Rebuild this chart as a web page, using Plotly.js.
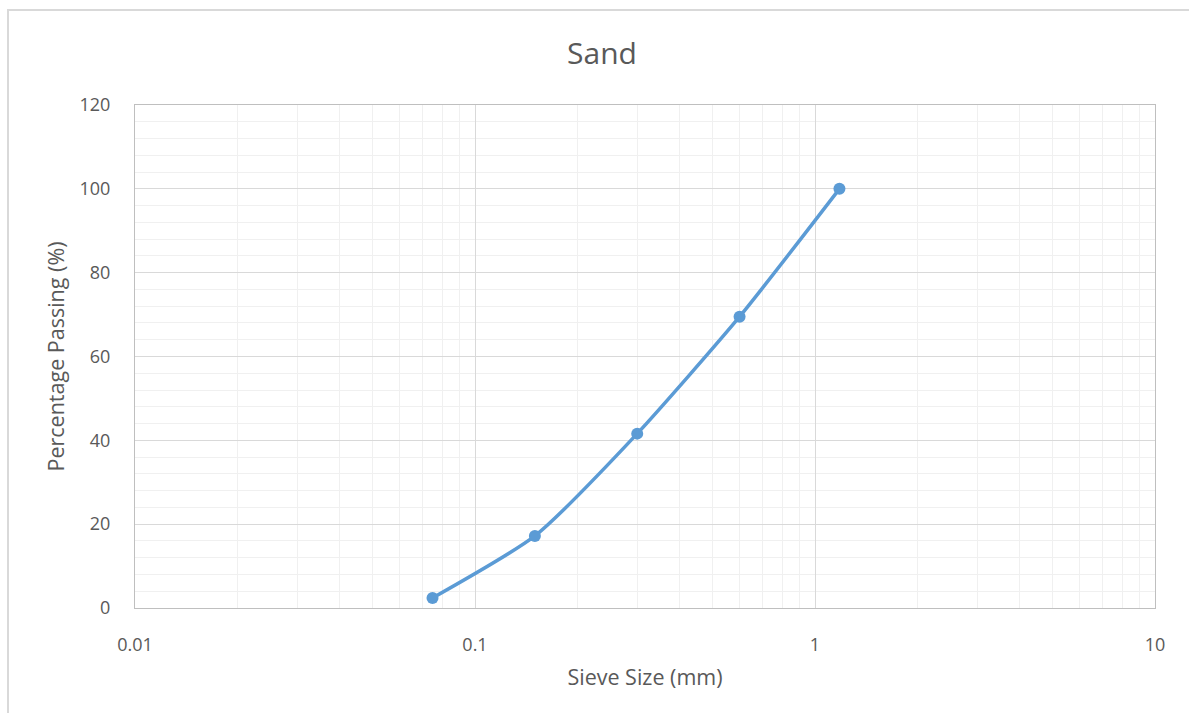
<!DOCTYPE html>
<html>
<head>
<meta charset="utf-8">
<script src="https://cdn.plot.ly/plotly-3.0.1.min.js"></script>
<style>html,body{margin:0;padding:0;background:#fff;}#chart{width:1189px;height:713px;}</style>
</head>
<body>
<div id="chart"></div>
<script>
const sieveSize = [0.075, 0.15, 0.3, 0.6, 1.18];
const percentPassing = [2.4, 17.2, 41.6, 69.5, 100];
const xTickVals = [0.01, 0.1, 1, 10];
const xTickText = ['0.01', '0.1', '1', '10'];

const FONT = 'Open Sans, Lato, sans-serif';
const TXT = '#595959';

const trace = {
  x: sieveSize,
  y: percentPassing,
  type: 'scatter',
  mode: 'lines+markers',
  line: {color: '#5B9BD5', width: 3.5, shape: 'spline', smoothing: 0.6},
  marker: {color: '#5B9BD5', size: 12},
  showlegend: false,
  hoverinfo: 'x+y'
};

const layout = {
  width: 1189, height: 713,
  margin: {l: 135, r: 34, t: 105, b: 105},
  paper_bgcolor: '#fff', plot_bgcolor: '#fff',
  font: {family: FONT, color: TXT, size: 18},
  title: {text: 'Sand', font: {family: FONT, size: 30, color: TXT}, x: 602 / 1189, xref: 'container', xanchor: 'center', y: 1 - 53 / 713, yref: 'container', yanchor: 'middle'},
  xaxis: {
    type: 'log', range: [-2, 1],
    tickvals: xTickVals, ticktext: xTickText,
    ticks: '', ticklabelstandoff: 20,
    tickfont: {family: FONT, size: 18, color: TXT},
    showline: true, linecolor: '#BFBFBF', linewidth: 1, mirror: true,
    showgrid: true, gridcolor: '#D9D9D9', gridwidth: 1,
    minor: {showgrid: true, gridcolor: '#F0F0F0', gridwidth: 1, tickvals: [0.02,0.03,0.04,0.05,0.06,0.07,0.08,0.09,0.2,0.3,0.4,0.5,0.6,0.7,0.8,0.9,2,3,4,5,6,7,8,9]},
    zeroline: false,
    title: {text: 'Sieve Size (mm)', font: {family: FONT, size: 21.5, color: TXT}, standoff: 15}
  },
  yaxis: {
    range: [0, 120], dtick: 20, tick0: 0,
    ticks: '', ticklabelstandoff: 20,
    tickfont: {family: FONT, size: 18, color: TXT},
    showline: true, linecolor: '#BFBFBF', linewidth: 1, mirror: true,
    showgrid: true, gridcolor: '#D9D9D9', gridwidth: 1,
    minor: {showgrid: true, gridcolor: '#F0F0F0', gridwidth: 1, dtick: 4},
    zeroline: false,
    title: {text: 'Percentage Passing (%)', font: {family: FONT, size: 21.5, color: TXT}, standoff: 8}
  },
  shapes: [{
    type: 'rect', xref: 'paper', yref: 'paper',
    x0: (8 - 135) / 1020, x1: 1.2, y0: -0.3, y1: (608 - 10) / 503,
    line: {color: '#D9D9D9', width: 2}, fillcolor: 'rgba(0,0,0,0)', layer: 'below'
  }]
};

Plotly.newPlot('chart', [trace], layout, {displayModeBar: false, staticPlot: true});
</script>
</body>
</html>
